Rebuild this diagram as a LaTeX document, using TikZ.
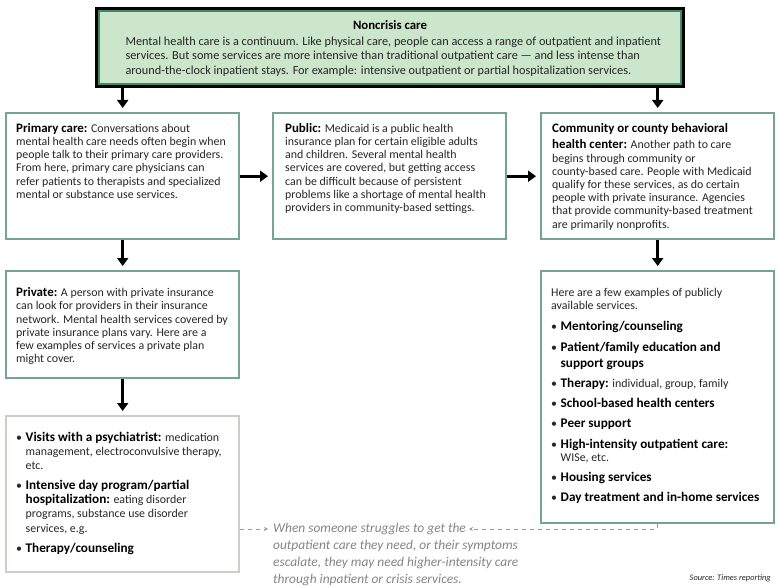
\documentclass[tikz,border=0pt]{standalone}
\usepackage{fontspec}
\setmainfont{Carlito}
\usetikzlibrary{arrows.meta}
\definecolor{boxc}{HTML}{74A592}
\definecolor{topfill}{HTML}{CCE6CC}
\definecolor{topin}{HTML}{3F8868}
\definecolor{lightc}{HTML}{C9D2C2}
\definecolor{txt}{HTML}{262626}
\definecolor{notec}{HTML}{858585}
\newcommand\bodyf{\fontsize{11.9}{13.2}\selectfont}
\newcommand\leadf{\fontsize{12.9}{13.2}\selectfont\bfseries\color{black}}
\newcommand\itemf{\fontsize{13.2}{16}\selectfont\bfseries\color{black}}
% list item: #1 gap before, #2 baselineskip, #3 content
\newcommand\lstitem[3]{\par\vspace{#1}\bodyf\setlength\baselineskip{#2}\hangindent=9.5pt\hangafter=1\noindent\makebox[9.5pt][l]{\textbullet}#3}
\tikzset{
  boxn/.style={draw=boxc, line width=2.4pt, inner ysep=0pt, inner xsep=10pt, anchor=north west, text=txt},
  lightbox/.style={boxn, draw=lightc},
  arr/.style={line width=3pt, -{Triangle[width=11pt,length=8pt]}, shorten >=4pt},
  dashc/.style={draw=notec!80, line width=1pt, dash pattern=on 4pt off 4pt, -{Stealth[length=4pt,width=4pt]}}
}
\begin{document}
\begin{tikzpicture}[x=1pt,y=-1pt]
\useasboundingbox[fill=white] (0,0) rectangle (780,586);

% top box
\node[draw=black, line width=3pt, fill=topfill, inner sep=0pt, anchor=north west, text=txt] (top) at (95,7)
 {\parbox[c][78pt][t]{587pt}{\vspace*{12pt}{\centering\fontsize{12.8}{14.5}\selectfont\bfseries\color{black}Noncrisis care\par}\vspace{1.5pt}
 \fontsize{12.3}{14.5}\selectfont
 \hspace*{29pt}\parbox[t]{556pt}{\raggedright
 Mental health care is a continuum. Like physical care, people can access a range of outpatient and inpatient\\
 services. But some services are more intensive than traditional outpatient care --- and less intense than\\
 around-the-clock inpatient stays. For example: intensive outpatient or partial hospitalization services.}}};
\draw[topin, line width=2.4pt] ([shift={(4,4)}]top.north west) rectangle ([shift={(-4,-4)}]top.south east);

% primary
\node[boxn] (primary) at (5,112)
 {\parbox[c][126pt][t]{213pt}{\raggedright\bodyf\vspace*{10pt}
 {\leadf Primary care:} Conversations about\\
 mental health care needs often begin when\\
 people talk to their primary care providers.\\
 From here, primary care physicians can\\
 refer patients to therapists and specialized\\
 mental or substance use services.}};

% public
\node[boxn, inner xsep=12pt] (public) at (272,112)
 {\parbox[c][126pt][t]{209pt}{\raggedright\bodyf\vspace*{10pt}
 {\leadf Public:} Medicaid is a public health\\
 insurance plan for certain eligible adults\\
 and children. Several mental health\\
 services are covered, but getting access\\
 can be difficult because of persistent\\
 problems like a shortage of mental health\\
 providers in community-based settings.}};

% community
\node[boxn, inner xsep=11pt] (community) at (540,112)
 {\parbox[c][126pt][t]{211pt}{\raggedright\bodyf\vspace*{10.5pt}
 {\leadf Community or county behavioral}\\[3pt]
 {\leadf health center:} Another path to care\\
 begins through community or\\
 county-based care. People with Medicaid\\
 qualify for these services, as do certain\\
 people with private insurance. Agencies\\
 that provide community-based treatment\\
 are primarily nonprofits.}};

% private
\node[boxn] (private) at (5,270)
 {\parbox[c][107pt][t]{213pt}{\raggedright\bodyf\vspace*{16.5pt}
 {\leadf Private:} A person with private insurance\\
 can look for providers in their insurance\\
 network. Mental health services covered by\\
 private insurance plans vary. Here are a\\
 few examples of services a private plan\\
 might cover.}};

% private list
\node[lightbox] (privlist) at (5,415)
 {\parbox[c][156pt][t]{213pt}{\bodyf\vspace*{16pt}
 \lstitem{0pt}{14pt}{{\itemf Visits with a psychiatrist:} medication\\
 management, electroconvulsive therapy,\\
 etc.}
 \lstitem{5.5pt}{14.3pt}{{\itemf Intensive day program/partial}\\
 {\itemf hospitalization:} eating disorder\\
 programs, substance use disorder\\
 services, e.g.}
 \lstitem{6pt}{14pt}{{\itemf Therapy/counseling}}\par}};

% public list
\node[boxn] (publist) at (540,270)
 {\parbox[c][252pt][t]{213pt}{\bodyf\vspace*{17pt}
 Here are a few examples of publicly\\
 available services.\par
 \lstitem{4.5pt}{16pt}{{\itemf Mentoring/counseling}}
 \lstitem{5pt}{16pt}{{\itemf Patient/family education and}\\
 {\itemf support groups}}
 \lstitem{4pt}{16pt}{{\itemf Therapy:} individual, group, family}
 \lstitem{4pt}{16pt}{{\itemf School-based health centers}}
 \lstitem{4pt}{16pt}{{\itemf Peer support}}
 \lstitem{5pt}{16pt}{{\itemf High-intensity outpatient care:}\\[-3pt]
 WISe, etc.}
 \lstitem{4pt}{16pt}{{\itemf Housing services}}
 \lstitem{4pt}{16pt}{{\itemf Day treatment and in-home services}}\par}};

% note
\node[anchor=north west, inner sep=0pt, text=notec, align=left,
      font=\fontsize{13.4}{17}\selectfont\itshape] (note) at (273,522.5)
 {When someone struggles to get the\\
 outpatient care they need, or their symptoms\\
 escalate, they may need higher-intensity care\\
 through inpatient or crisis services.};

\node[anchor=south east, inner sep=0pt, text=txt, font=\fontsize{8.4}{9}\selectfont\itshape] (source) at (771,582) {Source: Times reporting};

% arrows
\draw[arr] (primary.north |- top.south) -- (primary.north);
\draw[arr] (community.north |- top.south) -- (community.north);
\draw[arr] (primary.east) -- (public.west);
\draw[arr] (public.east) -- (community.west);
\draw[arr] (primary.south) -- (private.north);
\draw[arr] (community.south) -- (publist.north);
\draw[arr] (private.south) -- (privlist.north);

% dashed
\coordinate (nl) at (268,529);
\coordinate (nr) at (469,529);
\draw[dashc] (privlist.east |- nl) -- (nl);
\draw[dashc] (publist.south) |- (nr);
\end{tikzpicture}
\end{document}
